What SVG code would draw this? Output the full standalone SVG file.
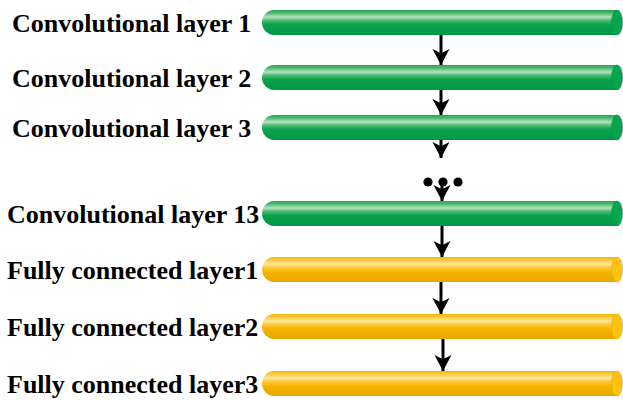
<svg xmlns="http://www.w3.org/2000/svg" width="623" height="400" viewBox="0 0 623 400">
  <style>
    .label { font-family: "Liberation Serif", "Times New Roman", serif; font-weight: bold; font-size: 26px; fill: #000; }
    .conv .body { fill: url(#gGreen); }
    .conv .cap { fill: #05a54f; stroke: #00963f; stroke-width: 0.6; }
    .fc .body { fill: url(#gGold); }
    .fc .cap { fill: #ffc20e; stroke: #e9a900; stroke-width: 0.6; }
    .link { stroke: #000; stroke-width: 3; fill: none; marker-end: url(#head); }
    .dot { fill: #000; }
  </style>
  <defs>
    <linearGradient id="gGreen" x1="0" y1="0" x2="0" y2="1">
      <stop offset="0" stop-color="#23a652"/>
      <stop offset="0.12" stop-color="#4db870"/>
      <stop offset="0.28" stop-color="#b6e2c0"/>
      <stop offset="0.42" stop-color="#4cb972"/>
      <stop offset="0.58" stop-color="#0aa24c"/>
      <stop offset="1" stop-color="#009844"/>
    </linearGradient>
    <linearGradient id="gGold" x1="0" y1="0" x2="0" y2="1">
      <stop offset="0" stop-color="#f5b500"/>
      <stop offset="0.12" stop-color="#fcc93a"/>
      <stop offset="0.28" stop-color="#ffe6a0"/>
      <stop offset="0.42" stop-color="#fdc93a"/>
      <stop offset="0.6" stop-color="#f5b400"/>
      <stop offset="1" stop-color="#e7a600"/>
    </linearGradient>
    <marker id="head" markerUnits="userSpaceOnUse" markerWidth="16" markerHeight="18" viewBox="-15 -8 15 16" refX="0" refY="0" orient="auto">
      <path d="M0,0 L-15,-8 L-11,0 L-15,8 Z" fill="#000"/>
    </marker>
    <!-- cylinder: rounded left end, elliptical cap on the right; 25px tall -->
    <path id="tube" d="M274,0 L617,0 L617,25 L274,25 A12,12.5 0 0 1 274,0 Z"/>
  </defs>

  <g id="conv1" class="conv" transform="translate(0,10)">
    <use href="#tube" class="body"/>
    <ellipse class="cap" cx="617" cy="12.5" rx="5.5" ry="12.5"/>
    <text class="label" x="12" y="22">Convolutional layer 1</text>
  </g>
  <g id="conv2" class="conv" transform="translate(0,65)">
    <use href="#tube" class="body"/>
    <ellipse class="cap" cx="617" cy="12.5" rx="5.5" ry="12.5"/>
    <text class="label" x="12" y="22">Convolutional layer 2</text>
  </g>
  <g id="conv3" class="conv" transform="translate(0,115)">
    <use href="#tube" class="body"/>
    <ellipse class="cap" cx="617" cy="12.5" rx="5.5" ry="12.5"/>
    <text class="label" x="12" y="22">Convolutional layer 3</text>
  </g>
  <g id="conv13" class="conv" transform="translate(0,201)">
    <use href="#tube" class="body"/>
    <ellipse class="cap" cx="617" cy="12.5" rx="5.5" ry="12.5"/>
    <text class="label" x="7" y="22">Convolutional layer 13</text>
  </g>
  <g id="fc1" class="fc" transform="translate(0,257)">
    <use href="#tube" class="body"/>
    <ellipse class="cap" cx="617" cy="12.5" rx="5.5" ry="12.5"/>
    <text class="label" x="7" y="22">Fully connected layer1</text>
  </g>
  <g id="fc2" class="fc" transform="translate(0,314)">
    <use href="#tube" class="body"/>
    <ellipse class="cap" cx="617" cy="12.5" rx="5.5" ry="12.5"/>
    <text class="label" x="7" y="22">Fully connected layer2</text>
  </g>
  <g id="fc3" class="fc" transform="translate(0,371)">
    <use href="#tube" class="body"/>
    <ellipse class="cap" cx="617" cy="12.5" rx="5.5" ry="12.5"/>
    <text class="label" x="7" y="22">Fully connected layer3</text>
  </g>

  <g id="connectors">
    <line class="link" x1="441" y1="35" x2="441" y2="65"/>
    <line class="link" x1="441" y1="90" x2="441" y2="115"/>
    <line class="link" x1="441" y1="140" x2="441" y2="158"/>
    <g id="ellipsis">
      <circle class="dot" cx="428" cy="182" r="4.6"/>
      <circle class="dot" cx="443" cy="182" r="4.6"/>
      <circle class="dot" cx="458" cy="182" r="4.6"/>
    </g>
    <line class="link" x1="442" y1="182" x2="442" y2="201"/>
    <line class="link" x1="442" y1="226" x2="442" y2="257"/>
    <line class="link" x1="441" y1="282" x2="441" y2="314"/>
    <line class="link" x1="443" y1="339" x2="443" y2="371"/>
  </g>
</svg>
